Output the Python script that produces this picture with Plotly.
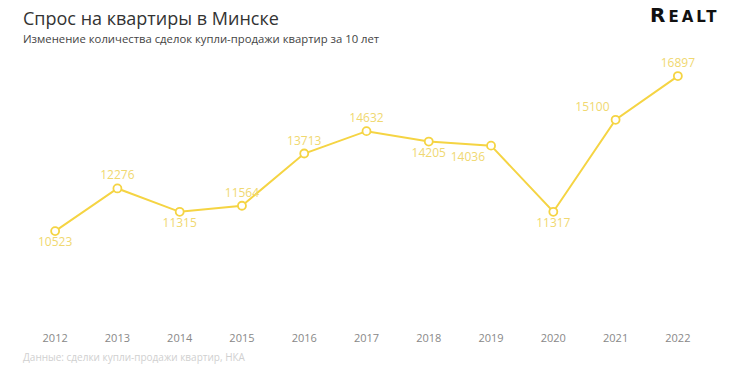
import plotly.graph_objects as go

years = ["2012", "2013", "2014", "2015", "2016", "2017", "2018", "2019", "2020", "2021", "2022"]
deals = [10523, 12276, 11315, 11564, 13713, 14632, 14205, 14036, 11317, 15100, 16897]
label_pos = ["bottom center", "top center", "bottom center", "top center", "top center",
             "top center", "bottom center", "bottom left", "bottom center", "top left", "top center"]

title = "Спрос на квартиры в Минске"
subtitle = "Изменение количества сделок купли-продажи квартир за 10 лет"
source = "Данные: сделки купли-продажи квартир, НКА"

FONT = "Open Sans"
LINE = "#f5d443"
LABEL = "#f0d870"

fig = go.Figure()
fig.add_trace(go.Scatter(
    x=years, y=deals,
    mode="lines+markers+text",
    text=[str(v) for v in deals],
    textposition=label_pos,
    textfont=dict(family=FONT, size=12, color=LABEL),
    line=dict(color=LINE, width=2),
    marker=dict(symbol="circle", size=8, color="white", line=dict(color=LINE, width=1.8)),
    cliponaxis=False,
    hoverinfo="skip",
))

fig.update_layout(
    width=732, height=370,
    margin=dict(l=24, r=23, t=50, b=40),
    paper_bgcolor="white", plot_bgcolor="white",
    showlegend=False,
    font=dict(family=FONT),
    xaxis=dict(type="category", range=[-0.5, 10.5], showgrid=False, zeroline=False,
               showline=False, ticks="", tickfont=dict(family=FONT, size=11, color="#888888")),
    yaxis=dict(range=[6456, 17969], visible=False),
    annotations=[
        dict(text=title, x=21, y=18, showarrow=False,
             xanchor="left", yanchor="middle", font=dict(family=FONT, size=18, color="#333333")),
        dict(text=subtitle, x=21, y=39, showarrow=False, xanchor="left", yanchor="middle",
             font=dict(family=FONT, size=11.3, color="#444444")),
        dict(text=source, x=21, y=357, showarrow=False, xanchor="left", yanchor="middle",
             font=dict(family=FONT, size=10, color="#d0d0d0")),
        dict(text="<b><span style='letter-spacing:3px'>R</span>"
                  "<span style='font-size:15px;letter-spacing:3px'>EALT</span></b>",
             x=722, y=15, showarrow=False,
             xanchor="right", yanchor="middle", font=dict(family="DejaVu Sans", size=20, color="#111111")),
    ],
)
# convert pixel-placed annotations to paper coords
W, H = 732, 370
l, r, t, b = 24, 23, 50, 40
pw, ph = W - l - r, H - t - b
for a in fig.layout.annotations:
    a.xref = "paper"; a.yref = "paper"
    a.x = (a.x - l) / pw
    a.y = 1 - (a.y - t) / ph

fig.write_html("out.html", config={"displayModeBar": False},
               post_script="document.body.style.margin='0';document.body.style.overflow='hidden';")
